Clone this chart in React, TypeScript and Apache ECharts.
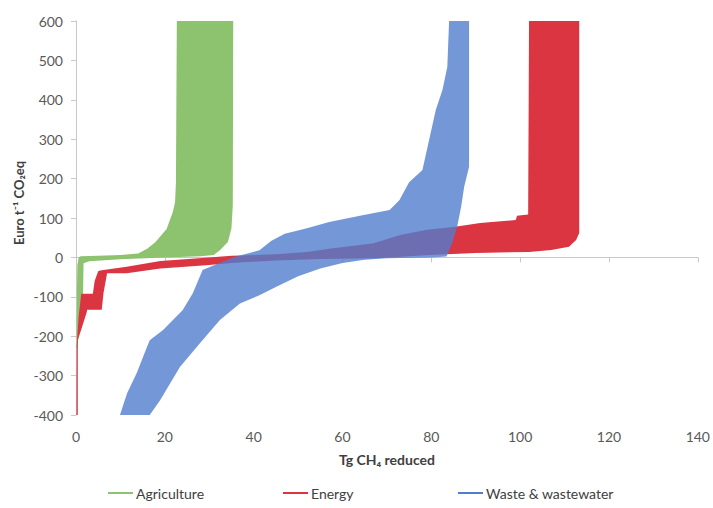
import React, { useEffect, useRef } from "react";
import * as echarts from "echarts";

// Tick labels / axis ranges
const xTicks = [0, 20, 40, 60, 80, 100, 120, 140];
const yTicks = [-400, -300, -200, -100, 0, 100, 200, 300, 400, 500, 600];

const seriesNames = ["Agriculture", "Energy", "Waste & wastewater"];

// Agriculture band: left/upper boundary and right/lower boundary [Tg CH4, Euro/t CO2eq]
const agricultureLeft: number[][] = [
  [0.1, -230], [0.2, -100], [0.3, -20], [0.6, 0], [1, 3], [5, 4], [10, 6], [14, 10],
  [16, 22], [17.8, 38], [20.4, 72], [21.8, 115], [22.3, 140], [22.5, 190], [22.7, 600],
];
const agricultureRight: number[][] = [
  [0.3, -230], [1.0, -150], [1.6, -90], [1.7, -15], [3, -10], [10, -5], [20, 0], [28, 3],
  [31, 6], [32.4, 18], [34.2, 39], [35, 74], [35.3, 132], [35.4, 600],
];

// Energy band
const energyLeft: number[][] = [
  [0.1, -400], [0.15, -225], [0.6, -150], [1.1, -100], [1.2, -92], [3.8, -92], [4.2, -60],
  [5.0, -35], [5.4, -33], [11.4, -24], [19, -9], [30, 0], [35, 4], [45, 8], [52, 14],
  [57, 22], [67, 36], [73, 57], [79, 70], [85, 77], [91, 87], [99, 95], [99.3, 106],
  [101.8, 109], [102, 600],
];
const energyRight: number[][] = [
  [0.4, -400], [0.4, -210], [2.4, -140], [2.5, -133], [5.8, -133], [6.2, -90], [7, -40],
  [11.4, -40], [19, -28], [30, -19], [35, -14], [45, -8], [55, -4], [67.6, -2], [79.5, 6],
  [90, 11], [102, 14], [107, 19], [111, 27], [112.6, 44], [113.3, 62], [113.3, 600],
];

// Waste & wastewater band
const wasteLeft: number[][] = [
  [9.9, -400], [11.5, -345], [13.7, -293], [16, -227], [16.6, -210], [19.6, -184],
  [24, -134], [26.3, -91], [28.5, -32], [35.3, 0], [41.3, 18], [44, 42], [47, 60],
  [52, 74], [57, 90], [64.5, 107], [70.6, 120], [72.8, 145], [75, 191], [78, 222],
  [79.5, 298], [81, 374], [82.5, 425], [83.6, 483], [84, 600],
];
const wasteRight: number[][] = [
  [16.6, -400], [18.9, -363], [23.4, -278], [27.9, -218], [32.4, -159], [36.9, -117],
  [41.3, -96], [45, -75], [50, -48], [55, -28], [60, -14], [65, -6], [70, -2], [80, 0],
  [83.4, 2], [84.7, 36], [85.8, 77], [86.7, 128], [87.4, 179], [88.5, 230], [88.5, 600],
];

const colors = ["#8DC26F", "#DA3540", "rgb(80,125,205)"];
const opacities = [1, 1, 0.8];

const FONT = "Lato, 'Open Sans', sans-serif";
const TEXT = "#595959";

function bandSeries(name: string, left: number[][], right: number[][], color: string, opacity: number) {
  const poly = left.concat(right.slice().reverse());
  return {
    type: "custom",
    name,
    xAxisIndex: 0,
    yAxisIndex: 0,
    clip: true,
    itemStyle: { color },
    data: poly,
    encode: { x: 0, y: 1 },
    renderItem: (params: any, api: any) => {
      if (params.dataIndex !== 0) return null;
      const pts = poly.map((p) => api.coord(p));
      return {
        type: "polygon",
        shape: { points: pts },
        style: { fill: color, opacity, stroke: null },
      };
    },
  };
}

export default function App() {
  const ref = useRef<HTMLDivElement>(null);
  useEffect(() => {
    if (!ref.current) return;
    const chart = echarts.init(ref.current, null, { renderer: "svg" });
    const legendLefts = [103, 278, 453];
    chart.setOption({
      animation: false,
      backgroundColor: "#ffffff",
      textStyle: { fontFamily: FONT },
      grid: { left: 76, right: 14, top: 21, bottom: 93, containLabel: false },
      legend: seriesNames.map((n, i) => ({
        data: [n],
        left: legendLefts[i],
        top: 481,
        icon: "rect",
        itemWidth: 25,
        itemHeight: 2,
        itemGap: 4,
        selectedMode: false,
        textStyle: { fontSize: 14, color: "#404040", fontFamily: FONT, padding: [0, 0, 0, -2] },
      })),
      xAxis: [
        {
          type: "value",
          min: xTicks[0],
          max: xTicks[xTicks.length - 1],
          interval: 20,
          position: "bottom",
          axisLine: { show: false, onZero: false },
          axisTick: { show: false },
          splitLine: { show: false },
          axisLabel: { margin: 14, fontSize: 14, color: TEXT, fontFamily: FONT },
          name: "Tg CH₄ reduced",
          nameLocation: "middle",
          nameGap: 37,
          nameTextStyle: { fontWeight: "bold", fontSize: 14, color: "#404040", fontFamily: FONT },
        },
        {
          type: "value",
          min: xTicks[0],
          max: xTicks[xTicks.length - 1],
          interval: 20,
          position: "bottom",
          axisLine: { show: true, onZero: true, lineStyle: { color: "#C8C8C8", width: 1 } },
          axisTick: { show: true, length: 5, lineStyle: { color: "#C8C8C8" } },
          axisLabel: { show: false },
          splitLine: { show: false },
        },
      ],
      yAxis: {
        type: "value",
        min: yTicks[0],
        max: yTicks[yTicks.length - 1],
        interval: 100,
        axisLine: { show: true, onZero: false, lineStyle: { color: "#C8C8C8", width: 1 } },
        axisTick: { show: true, length: 5, lineStyle: { color: "#C8C8C8" } },
        splitLine: { show: false },
        axisLabel: { margin: 13, fontSize: 14, color: TEXT, fontFamily: FONT },
      },
      graphic: [
        {
          type: "text",
          x: 19,
          y: 203,
          rotation: Math.PI / 2,
          style: {
            text: "Euro t⁻¹ CO₂eq",
            fontSize: 13,
            fontWeight: "bold",
            fontFamily: FONT,
            fill: "#404040",
            align: "center",
            verticalAlign: "middle",
          },
        },
      ],
      series: [
        bandSeries(seriesNames[0], agricultureLeft, agricultureRight, colors[0], opacities[0]),
        bandSeries(seriesNames[1], energyLeft, energyRight, colors[1], opacities[1]),
        bandSeries(seriesNames[2], wasteLeft, wasteRight, colors[2], opacities[2]),
      ],
    });
    return () => chart.dispose();
  }, []);
  return (
    <div
      ref={ref}
      style={{ position: "fixed", left: 0, top: 0, width: 713, height: 508, background: "#fff" }}
    />
  );
}
